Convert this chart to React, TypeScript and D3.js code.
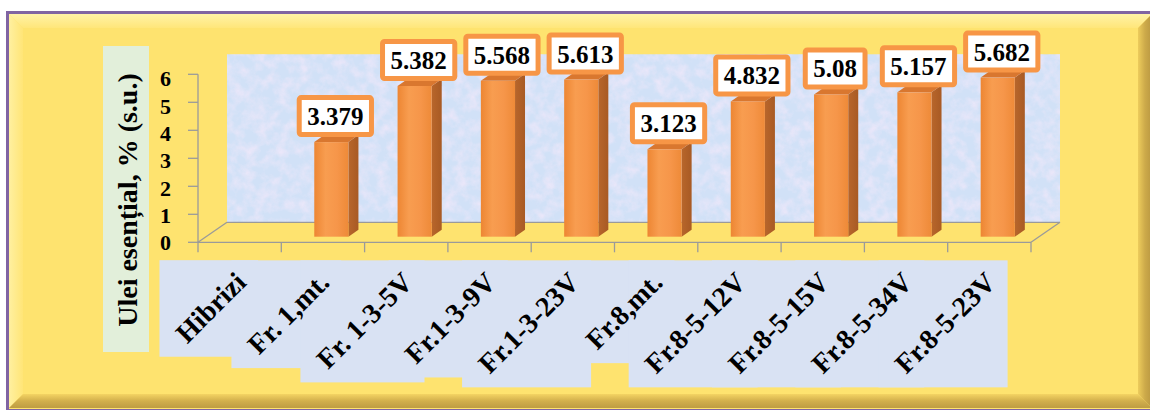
import { useEffect, useRef } from 'react';
import * as d3 from 'd3';

const categories = [
  'Hibrizi',
  'Fr. 1,mt.',
  'Fr. 1-3-5V',
  'Fr.1-3-9V',
  'Fr.1-3-23V',
  'Fr.8,mt.',
  'Fr.8-5-12V',
  'Fr.8-5-15V',
  'Fr.8-5-34V',
  'Fr.8-5-23V',
];

// first category is only the header of the axis, it has no value
const values: (number | null)[] = [null, 3.379, 5.382, 5.568, 5.613, 3.123, 4.832, 5.08, 5.157, 5.682];

const yTicks = [0, 1, 2, 3, 4, 5, 6];
const yTitle = 'Ulei esențial, % (s.u.)';

const W = 1150,
  H = 410;
const font = "'Liberation Serif', 'Times New Roman', 'DejaVu Serif', serif";

// 3d offsets
const wall = { dx: 29, dy: -20 };
const shift = { dx: 8.4, dy: -5.6 };
const side = { dx: 10, dy: -7 };

export default function App() {
  const ref = useRef<SVGSVGElement>(null);

  useEffect(() => {
    const svg = d3.select(ref.current);
    svg.selectAll('*').remove();

    const x = d3.scaleBand<string>().domain(categories).range([198, 1031]).padding(0);
    const y = d3.scaleLinear().domain([0, 6]).range([242.3, 74.3]);
    const barW = x.bandwidth() * 0.41;

    const defs = svg.append('defs');
    const grad = (id: string, stops: string[], vertical = false) => {
      const g = defs
        .append('linearGradient')
        .attr('id', id)
        .attr('x1', 0)
        .attr('y1', 0)
        .attr('x2', vertical ? 0 : 1)
        .attr('y2', vertical ? 1 : 0);
      stops.forEach((c, i) =>
        g.append('stop').attr('offset', i / (stops.length - 1)).attr('stop-color', c)
      );
    };
    grad('front', ['#ED8633', '#F89D50', '#F6964A', '#EE8A38']);
    grad('sideG', ['#B8662B', '#A85A24']);
    grad('bevTop', ['#FFF2A6', '#FFE67A'], true);
    grad('bevLeft', ['#FFF0A0', '#FFE577']);
    grad('bevBottom', ['#F4D463', '#D2AF4C', '#BE9C43'], true);
    grad('bevRight', ['#EDCC5C', '#CDAA4A', '#B99741']);

    const f = defs.append('filter').attr('id', 'tex').attr('x', 0).attr('y', 0).attr('width', 1).attr('height', 1);
    f.append('feTurbulence')
      .attr('type', 'fractalNoise')
      .attr('baseFrequency', 0.09)
      .attr('numOctaves', 3)
      .attr('seed', 7);
    f.append('feColorMatrix')
      .attr('type', 'matrix')
      .attr('values', '0 0 0 0 0.92  0 0 0 0 0.82  0 0 0 0 0.96  1.8 0 0 0 -0.65');

    // frame
    svg
      .append('rect')
      .attr('x', 7.5)
      .attr('y', 12.5)
      .attr('width', 1160)
      .attr('height', 398)
      .attr('fill', '#FEE36F')
      .attr('stroke', '#8064A2')
      .attr('stroke-width', 3);
    const L = 9,
      T = 14,
      R = 1152,
      B = 408,
      bw = 14;
    const poly = (pts: number[][], fill: string) =>
      svg.append('polygon').attr('points', pts.map((p) => p.join(',')).join(' ')).attr('fill', fill);
    poly([[L, T], [R, T], [R - bw, T + bw], [L + bw, T + bw]], 'url(#bevTop)');
    poly([[L, T], [L + bw, T + bw], [L + bw, B - bw], [L, B]], 'url(#bevLeft)');
    poly([[L, B], [L + bw, B - bw], [R - bw, B - bw], [R, B]], 'url(#bevBottom)');
    poly([[R, T], [R, B], [R - bw, B - bw], [R - bw, T + bw]], 'url(#bevRight)');

    // back wall
    const [x0, x1] = x.range();
    const wallX = x0 + wall.dx,
      wallW = x1 - x0;
    svg
      .append('rect')
      .attr('x', wallX)
      .attr('y', y(6) + wall.dy)
      .attr('width', wallW)
      .attr('height', y(0) - y(6))
      .attr('fill', '#D1E1F7');
    svg
      .append('rect')
      .attr('x', wallX)
      .attr('y', y(6) + wall.dy)
      .attr('width', wallW)
      .attr('height', y(0) - y(6))
      .attr('filter', 'url(#tex)')
      .attr('opacity', 0.75);

    // floor and axis lines
    const grid = svg.append('g').attr('stroke', '#9A9A9A').attr('stroke-width', 1.3).attr('fill', 'none');
    const line = (a: number[], b: number[]) =>
      grid.append('line').attr('x1', a[0]).attr('y1', a[1]).attr('x2', b[0]).attr('y2', b[1]);
    line([x0, y(0)], [x1, y(0)]);
    line([x0, y(0)], [x0 + wall.dx, y(0) + wall.dy]);
    line([x1, y(0)], [x1 + wall.dx, y(0) + wall.dy]);
    line([x0 + wall.dx, y(0) + wall.dy], [x1 + wall.dx, y(0) + wall.dy]);
    line([x0, y(0)], [x0, y(6)]);
    yTicks.forEach((t) => line([x0 - 10, y(t)], [x0, y(t)]));
    [...categories.map((c) => x(c)!), x1].forEach((t) => line([t, y(0)], [t, y(0) + 10]));

    // bars
    const bars = svg.append('g');
    categories.forEach((c, i) => {
      const v = values[i];
      if (v == null) return;
      const cx = x(c)! + x.bandwidth() / 2 + shift.dx;
      const bl = cx - barW / 2,
        br = cx + barW / 2;
      const yb = y(0) + shift.dy,
        yt = y(v) + shift.dy;
      bars
        .append('polygon')
        .attr('points', `${br},${yb} ${br + side.dx},${yb + side.dy} ${br + side.dx},${yt + side.dy} ${br},${yt}`)
        .attr('fill', 'url(#sideG)');
      bars
        .append('polygon')
        .attr('points', `${bl},${yt} ${br},${yt} ${br + side.dx},${yt + side.dy} ${bl + side.dx},${yt + side.dy}`)
        .attr('fill', '#D9772F');
      bars
        .append('rect')
        .attr('x', bl)
        .attr('y', yt)
        .attr('width', barW)
        .attr('height', yb - yt)
        .attr('fill', 'url(#front)');
    });

    // x labels with their background boxes
    const boxG = svg.append('g');
    const labG = svg.append('g');
    categories.forEach((c) => {
      const ax = x(c)! + x.bandwidth() / 2 + 8;
      const ay = 284;
      const t = labG
        .append('text')
        .attr('transform', `translate(${ax},${ay}) rotate(-45)`)
        .attr('text-anchor', 'end')
        .style('font-family', font)
        .style('font-weight', 'bold')
        .style('font-size', '28px')
        .attr('fill', '#000')
        .text(c);
      const bb = (t.node() as SVGTextElement).getBBox();
      const k = Math.SQRT1_2;
      const corners = [
        [bb.x, bb.y],
        [bb.x + bb.width, bb.y],
        [bb.x, bb.y + bb.height],
        [bb.x + bb.width, bb.y + bb.height],
      ].map(([px, py]) => [ax + k * (px + py), ay + k * (py - px)]);
      const xs = corners.map((p) => p[0]),
        ys = corners.map((p) => p[1]);
      const pad = 6;
      boxG
        .append('rect')
        .attr('x', d3.min(xs)! - pad - 4)
        .attr('y', d3.min(ys)! - pad)
        .attr('width', d3.max(xs)! - d3.min(xs)! + 2 * pad + 4)
        .attr('height', d3.max(ys)! - d3.min(ys)! + 2 * pad + 2)
        .attr('fill', '#D9E2F3');
    });

    // data labels
    const dl = svg.append('g');
    categories.forEach((c, i) => {
      const v = values[i];
      if (v == null) return;
      const cx = x(c)! + x.bandwidth() / 2 + shift.dx + 4;
      const bottom = y(v) + shift.dy - 7.5;
      const g = dl.append('g');
      const r = g.append('rect');
      const t = g
        .append('text')
        .attr('x', cx)
        .attr('text-anchor', 'middle')
        .style('font-family', font)
        .style('font-weight', 'bold')
        .style('font-size', '25px')
        .text(String(v));
      const tw = (t.node() as SVGTextElement).getComputedTextLength();
      const bw2 = tw + 16,
        bh = 37;
      r.attr('x', cx - bw2 / 2)
        .attr('y', bottom - bh)
        .attr('width', bw2)
        .attr('height', bh)
        .attr('fill', '#fff')
        .attr('stroke', '#F79646')
        .attr('stroke-width', 5)
        .attr('rx', 2);
      t.attr('y', bottom - bh / 2 + 9);
    });

    // y tick labels
    svg
      .append('g')
      .selectAll('text')
      .data(yTicks)
      .join('text')
      .attr('x', 171)
      .attr('y', (d) => y(d) + 8 + (d / 6) * 4)
      .attr('text-anchor', 'end')
      .style('font-family', font)
      .style('font-weight', 'bold')
      .style('font-size', '22px')
      .text((d) => d);

    // y title
    svg.append('rect').attr('x', 103).attr('y', 46).attr('width', 46).attr('height', 306).attr('fill', '#E2EFDA');
    svg
      .append('text')
      .attr('transform', 'translate(137,200) rotate(-90)')
      .attr('text-anchor', 'middle')
      .style('font-family', font)
      .style('font-weight', 'bold')
      .style('font-size', '28px')
      .text(yTitle);
  }, []);

  return <svg ref={ref} width={W} height={H} style={{ position: 'absolute', left: 0, top: 0 }} />;
}
